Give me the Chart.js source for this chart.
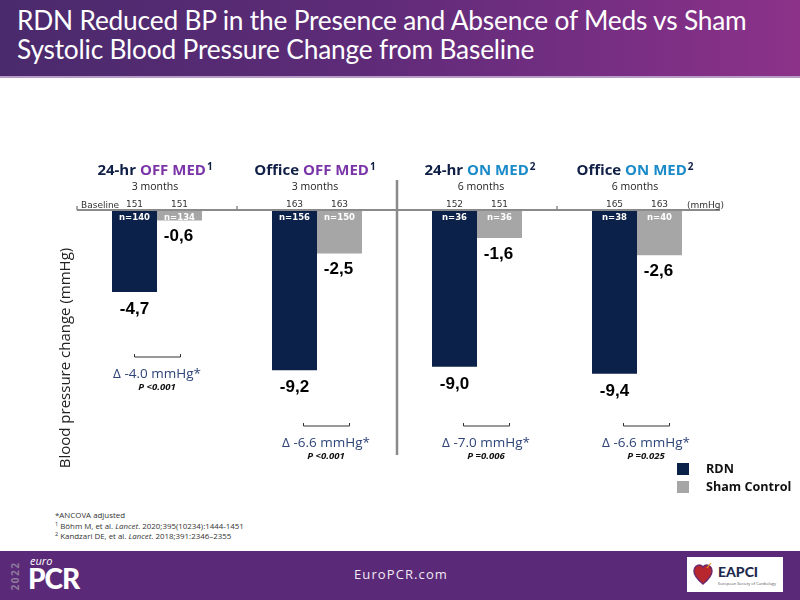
<!DOCTYPE html>
<html>
<head>
<meta charset="utf-8">
<script src="https://cdn.jsdelivr.net/npm/chart.js@4.4.1/dist/chart.umd.min.js"></script>
<style>
  body { margin: 0; width: 800px; height: 600px; position: relative; overflow: hidden; background: #fff; font-family: Lato, "Open Sans", sans-serif; }
  .banner { position: absolute; left: 0; top: 0; width: 800px; height: 76px; background: linear-gradient(90deg, #4a2a6c 0%, #5e2b78 45%, #7a2f84 80%, #8c3289 100%); border-bottom: 2px solid #b79cc8; }
  .banner h1 { margin: 0; position: absolute; left: 17px; top: 6px; color: #fff; font-weight: 400; font-size: 26.3px; line-height: 29px; letter-spacing: -0.2px; }
  .notes { position: absolute; left: 55px; top: 510px; font-size: 7.9px; line-height: 10.5px; color: #333; font-family: "Open Sans", sans-serif; }
  .notes sup { font-size: 5.5px; vertical-align: baseline; position: relative; top: -3px; line-height: 0; }
  .footer { position: absolute; left: 0; top: 551px; width: 800px; height: 49px; background: #5a2977; }
  .footer .site { position: absolute; left: 0; width: 802px; top: 14px; text-align: center; color: #f2eaf5; font-family: "Open Sans", sans-serif; font-size: 13px; letter-spacing: 1.1px; }
  .year { position: absolute; left: -3px; top: 18px; transform: rotate(-90deg); transform-origin: center; color: #8d7a9c; font-family: "Open Sans", sans-serif; font-weight: 700; font-size: 10px; letter-spacing: 1.5px; width: 36px; text-align: center; }
  .euro { position: absolute; left: 30px; top: 2px; color: #fff; font-style: italic; font-size: 11px; font-family: "Open Sans", sans-serif; }
  .pcr { position: absolute; left: 28px; top: 12px; color: #fff; font-weight: 900; font-size: 28px; line-height: 30px; font-family: Lato, sans-serif; letter-spacing: -1px; }
  .eapci { position: absolute; left: 687px; top: 6px; width: 96px; height: 35px; background: #fff; }
  .eapci .heart { position: absolute; left: 6px; top: 6px; width: 20px; height: 22px; }
  .eapci .name { position: absolute; left: 31px; top: 6px; color: #1d2a4d; font-weight: 900; font-size: 14px; font-family: Lato, sans-serif; }
  .eapci .esc { position: absolute; left: 31px; top: 24px; color: #555; font-size: 4px; font-family: "Open Sans", sans-serif; }
  #chart { position: absolute; left: 0; top: 0; }
</style>
</head>
<body>
<div class="banner"><h1>RDN Reduced BP in the Presence and Absence of Meds vs Sham<br>Systolic Blood Pressure Change from Baseline</h1></div>
<div class="notes">*ANCOVA adjusted<br><sup>1</sup> Böhm M, et al. <i>Lancet</i>. 2020;395(10234):1444-1451<br><sup>2</sup> Kandzari DE, et al. <i>Lancet</i>. 2018;391:2346–2355</div>
<div class="footer">
  <div class="year">2022</div>
  <div class="euro">euro</div>
  <div class="pcr">PCR</div>
  <div class="site">EuroPCR.com</div>
  <div class="eapci">
    <svg class="heart" viewBox="0 0 20 22"><path d="M10 21 C4 16 1 12 1 8 C1 4 4 2 6.5 2 C8.2 2 9.4 3 10 4.2 C10.6 3 11.8 2 13.5 2 C16 2 19 4 19 8 C19 12 16 16 10 21 Z" fill="#b8262e" stroke="#6b2a6e" stroke-width="1.5"/><line x1="14" y1="5" x2="18" y2="0" stroke="#e0a020" stroke-width="1.2"/></svg>
    <div class="name">EAPCI</div>
    <div class="esc">European Society of Cardiology</div>
  </div>
</div>
<canvas id="chart" width="800" height="600"></canvas>
<script>
const groupLead = ['24-hr', 'Office', '24-hr', 'Office'];
const groupMed = ['OFF MED', 'OFF MED', 'ON MED', 'ON MED'];
const groupRef = ['1', '1', '2', '2'];
const followUp = ['3 months', '3 months', '6 months', '6 months'];
const rdnChange = [-4.7, -9.2, -9.0, -9.4];
const shamChange = [-0.6, -2.5, -1.6, -2.6];
const rdnBaseline = [151, 163, 152, 165];
const shamBaseline = [151, 163, 151, 163];
const rdnN = [140, 156, 36, 38];
const shamN = [134, 150, 36, 40];
const deltaValues = ['-4.0', '-6.6', '-7.0', '-6.6'];
const pValues = ['<0.001', '<0.001', '=0.006', '=0.025'];
const seriesNames = ['RDN', 'Sham Control'];
const yMin = -14;
const yMax = 0;

const NAVY = '#0c2149';
const GREY = '#a6a6a6';
const PURPLE = '#7a35a8';
const BLUE = '#1b8ac8';
const AXIS = '#8a8a8a';

const fmt = v => v.toFixed(1).replace('.', ',');

const overlay = {
    id: 'overlay',
    afterDatasetsDraw(chart) {
        const ctx = chart.ctx;
        const x = chart.scales.x;
        const y = chart.scales.y;
        const area = chart.chartArea;
        const y0 = y.getPixelForValue(0);
        const rdnBars = chart.getDatasetMeta(0).data;
        const shamBars = chart.getDatasetMeta(1).data;
        const step = x.getPixelForValue(1) - x.getPixelForValue(0);

        ctx.save();
        // baseline axis
        ctx.strokeStyle = AXIS;
        ctx.lineWidth = 2;
        ctx.beginPath();
        ctx.moveTo(area.left, y0);
        ctx.lineTo(area.right + 3, y0);
        ctx.stroke();
        ctx.lineWidth = 1.5;
        [0, 1, 3].forEach(i => {
            const tx = area.left + i * step;
            ctx.beginPath();
            ctx.moveTo(tx, y0 - 4);
            ctx.lineTo(tx, y0);
            ctx.stroke();
        });
        // separator between OFF MED and ON MED
        const sepX = area.left + 2 * step;
        ctx.lineWidth = 2.5;
        ctx.beginPath();
        ctx.moveTo(sepX, y0 - 30);
        ctx.lineTo(sepX, area.bottom + 1);
        ctx.stroke();

        ctx.textAlign = 'left';
        ctx.textBaseline = 'middle';
        ctx.fillStyle = '#333';
        ctx.font = '9px "DejaVu Sans"';
        ctx.fillText('Baseline', area.left + 4, y0 - 4);
        ctx.fillText('(mmHg)', area.right - 30, y0 - 4);

        for (let i = 0; i < rdnChange.length; i++) {
            const cx = x.getPixelForValue(i);
            const r = rdnBars[i];
            const s = shamBars[i];

            // header
            ctx.font = 'bold 15px "Open Sans"';
            const leadW = ctx.measureText(groupLead[i] + ' ').width;
            const medW = ctx.measureText(groupMed[i]).width;
            ctx.font = 'bold 10px "Open Sans"';
            const refW = ctx.measureText(groupRef[i]).width + 1;
            const hx = cx - (leadW + medW + refW) / 2 - (i === 2 ? -3 : 2);
            ctx.textAlign = 'left';
            ctx.font = 'bold 15px "Open Sans"';
            ctx.fillStyle = '#0f1f45';
            ctx.fillText(groupLead[i] + ' ', hx, y0 - 39);
            ctx.fillStyle = i < 2 ? PURPLE : BLUE;
            ctx.fillText(groupMed[i], hx + leadW, y0 - 39);
            ctx.font = 'bold 10px "Open Sans"';
            ctx.fillStyle = '#0f1f45';
            ctx.fillText(groupRef[i], hx + leadW + medW + 1, y0 - 43);
            ctx.textAlign = 'center';
            ctx.font = '10.5px "Open Sans"';
            ctx.fillStyle = '#222';
            ctx.fillText(followUp[i], cx + (i === 2 ? 4 : -2), y0 - 23);

            // baseline values
            ctx.font = '9px "DejaVu Sans"';
            ctx.fillStyle = '#333';
            ctx.fillText(String(rdnBaseline[i]), r.x, y0 - 5);
            ctx.fillText(String(shamBaseline[i]), s.x, y0 - 5);

            // n labels inside bar tops
            ctx.font = 'bold 8.5px "DejaVu Sans"';
            ctx.fillStyle = '#fff';
            ctx.fillText('n=' + rdnN[i], r.x, y0 + 8);
            ctx.fillText('n=' + shamN[i], s.x, y0 + 8);

            // change labels
            ctx.font = 'bold 17px "Liberation Sans"';
            ctx.fillStyle = '#000';
            ctx.fillText(fmt(rdnChange[i]), r.x, y.getPixelForValue(rdnChange[i]) + 17);
            ctx.fillText(fmt(shamChange[i]), s.x - 1, y.getPixelForValue(shamChange[i]) + 16);

            // difference bracket and text
            const by = i === 0 ? 357 : 426;
            const dx = i === 0 ? 0 : 9;
            ctx.strokeStyle = '#333';
            ctx.lineWidth = 1;
            ctx.beginPath();
            ctx.moveTo(r.x + dx, by - 3);
            ctx.lineTo(r.x + dx, by);
            ctx.lineTo(s.x + dx + 1, by);
            ctx.lineTo(s.x + dx + 1, by - 3);
            ctx.stroke();
            ctx.font = '13.5px "Open Sans"';
            ctx.fillStyle = '#2d4478';
            ctx.fillText('Δ ' + deltaValues[i] + ' mmHg*', cx + dx, by + 17);
            ctx.font = 'italic bold 9.5px "Open Sans"';
            ctx.fillStyle = '#111';
            ctx.fillText('P ' + pValues[i], cx + dx, by + 30);
        }

        // legend
        const lx = 677;
        [NAVY, GREY].forEach((c, k) => {
            const ly = 463 + k * 18;
            ctx.fillStyle = c;
            ctx.fillRect(lx, ly, 12, 12);
            ctx.fillStyle = '#111';
            ctx.textAlign = 'left';
            ctx.font = 'bold 12.6px "Open Sans"';
            ctx.fillText(seriesNames[k], lx + 29, ly + 6);
        });

        // y axis title
        ctx.translate(66, 358);
        ctx.rotate(-Math.PI / 2);
        ctx.textAlign = 'center';
        ctx.font = '15px "Open Sans"';
        ctx.fillStyle = '#222';
        ctx.fillText('Blood pressure change (mmHg)', 0, 0);
        ctx.restore();
    }
};

new Chart(document.getElementById('chart').getContext('2d'), {
    type: 'bar',
    data: {
        labels: groupLead.map((l, i) => l + ' ' + groupMed[i]),
        datasets: [
            { label: seriesNames[0], data: rdnChange, backgroundColor: NAVY, borderWidth: 0 },
            { label: seriesNames[1], data: shamChange, backgroundColor: GREY, borderWidth: 0 }
        ]
    },
    options: {
        responsive: false,
        animation: false,
        devicePixelRatio: 1,
        layout: { padding: { left: 77, right: 83, top: 210, bottom: 146 } },
        datasets: { bar: { barPercentage: 1, categoryPercentage: 0.5625 } },
        plugins: { legend: { display: false }, tooltip: { enabled: false } },
        scales: {
            x: { display: false },
            y: { display: false, min: yMin, max: yMax }
        }
    },
    plugins: [overlay]
});
</script>
</body>
</html>
